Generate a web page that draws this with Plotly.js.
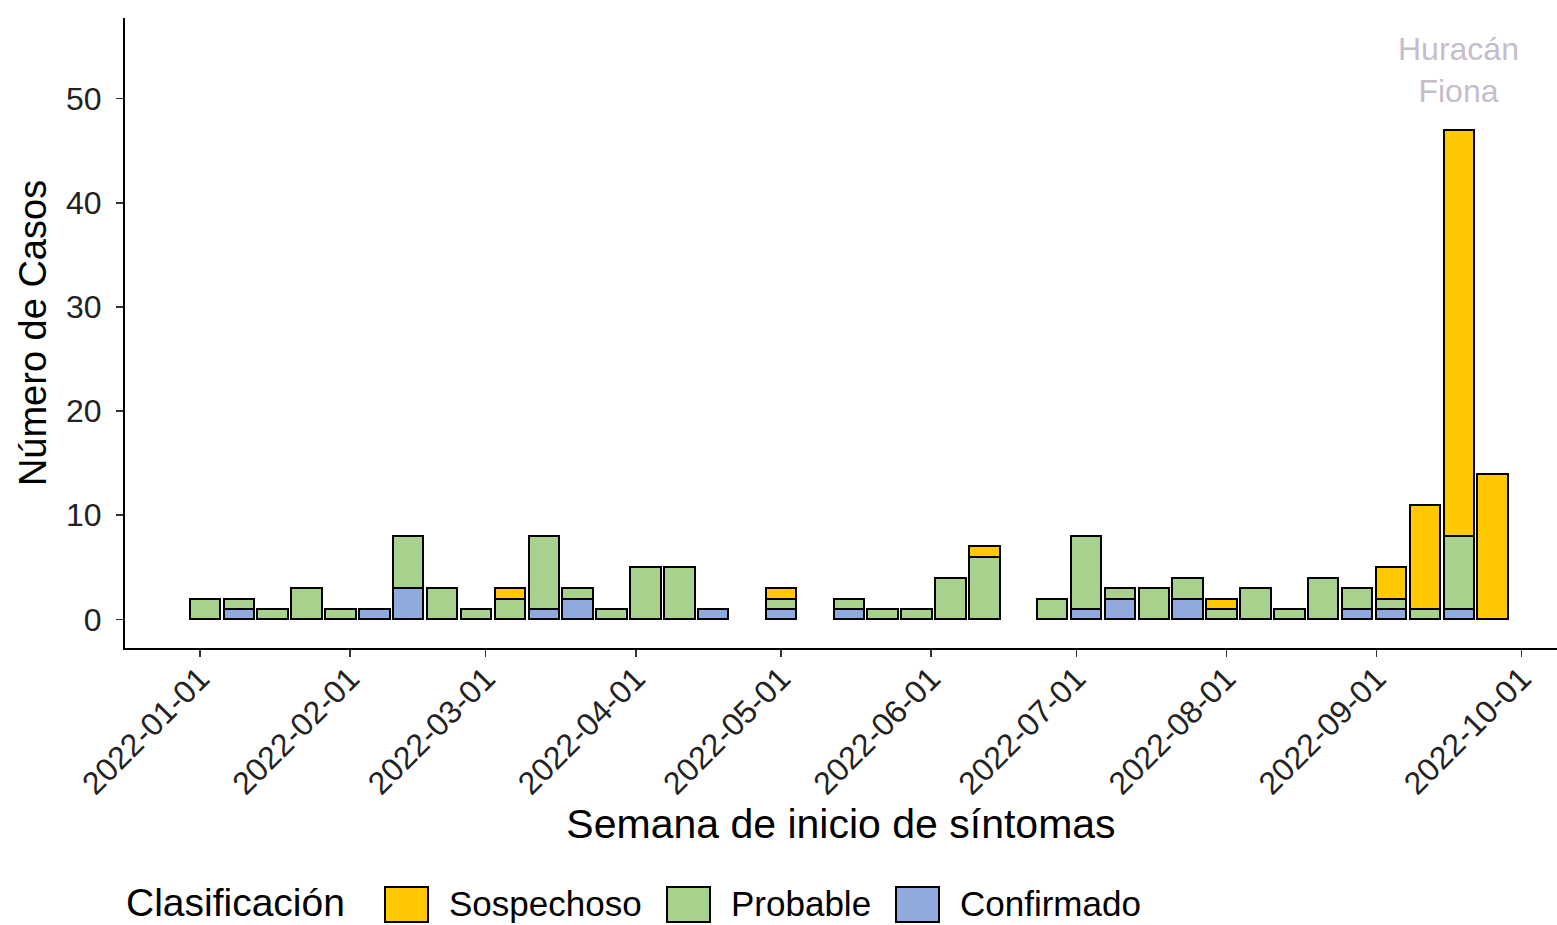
<!DOCTYPE html>
<html>
<head>
<meta charset="utf-8">
<script src="https://cdn.plot.ly/plotly-3.0.1.min.js"></script>
<style>html,body{margin:0;padding:0;background:#fff;}#chart{width:1557px;height:925px;}</style>
</head>
<body>
<div id="chart"></div>
<script>
// Week start dates (epidemiological weeks, Sunday)
const weeks = ["2022-01-02","2022-01-09","2022-01-16","2022-01-23","2022-01-30","2022-02-06","2022-02-13","2022-02-20","2022-02-27","2022-03-06","2022-03-13","2022-03-20","2022-03-27","2022-04-03","2022-04-10","2022-04-17","2022-04-24","2022-05-01","2022-05-08","2022-05-15","2022-05-22","2022-05-29","2022-06-05","2022-06-12","2022-06-19","2022-06-26","2022-07-03","2022-07-10","2022-07-17","2022-07-24","2022-07-31","2022-08-07","2022-08-14","2022-08-21","2022-08-28","2022-09-04","2022-09-11","2022-09-18","2022-09-25"];
const confirmado = [0,1,0,0,0,1,3,0,0,0,1,2,0,0,0,1,0,1,0,1,0,0,0,0,0,0,1,2,0,2,0,0,0,0,1,1,0,1,0];
const probable   = [2,1,1,3,1,0,5,3,1,2,7,1,1,5,5,0,0,1,0,1,1,1,4,6,0,2,7,1,3,2,1,3,1,4,2,1,1,7,0];
const sospechoso = [0,0,0,0,0,0,0,0,0,1,0,0,0,0,0,0,0,1,0,0,0,0,0,1,0,0,0,0,0,0,1,0,0,0,0,3,10,39,14];
const seriesNames = ["Confirmado","Probable","Sospechoso"];
const seriesColors = ["#8FAADC","#A9D18E","#FFC800"];
const legendOrder = ["Sospechoso","Probable","Confirmado"];
const monthTicks = ["2022-01-01","2022-02-01","2022-03-01","2022-04-01","2022-05-01","2022-06-01","2022-07-01","2022-08-01","2022-09-01","2022-10-01"];
const annotText = "Huracán<br>Fiona";
const annotDate = "2022-09-18";
const annotY = 52.8;

const font = "Liberation Sans, Arial, sans-serif";
const dayMs = 86400000;
const barWidth = 6.3 * dayMs;
const seriesValues = [confirmado, probable, sospechoso];

const traces = seriesNames.map((name, k) => ({
  type: "bar",
  name: name,
  x: weeks,
  y: seriesValues[k].map(v => v === 0 ? null : v),
  width: weeks.map(() => barWidth),
  marker: {color: seriesColors[k], line: {color: "#000", width: 2}},
  showlegend: false,
  hoverinfo: "x+y+name"
}));

// pixel -> paper helpers for plot area: left 125, right 1557, top 18, bottom 648
const px = p => (p - 125) / 1432;
const py = p => (648 - p) / 630;

const shapes = [];
const annotations = [
  {x: annotDate, y: annotY, xref: "x", yref: "y", text: annotText, showarrow: false,
   font: {family: font, size: 32, color: "#C6BCCB"}, align: "center", xanchor: "center", yanchor: "middle"},
  {x: px(124), y: py(903), xref: "paper", yref: "paper", text: "Clasificación", showarrow: false,
   font: {family: font, size: 39, color: "#000"}, xanchor: "left", yanchor: "middle"}
];
const keyX = [385, 667, 896];
const textX = [447, 729, 958];
legendOrder.forEach((name, i) => {
  const k = seriesNames.indexOf(name);
  shapes.push({type: "rect", xref: "paper", yref: "paper",
    x0: px(keyX[i]), x1: px(keyX[i] + 43), y0: py(922), y1: py(887),
    fillcolor: seriesColors[k], line: {color: "#000", width: 2}});
  annotations.push({x: px(textX[i]), y: py(904), xref: "paper", yref: "paper", text: name,
    showarrow: false, font: {family: font, size: 35, color: "#000"}, xanchor: "left", yanchor: "middle"});
});

const layout = {
  width: 1557, height: 925,
  margin: {l: 125, r: 0, t: 18, b: 277},
  paper_bgcolor: "#fff", plot_bgcolor: "#fff",
  barmode: "stack",
  showlegend: false,
  xaxis: {
    type: "date",
    range: ["2021-12-16 12:00", "2022-10-08 07:00"],
    tickvals: monthTicks,
    ticktext: monthTicks,
    tickangle: -45,
    ticks: "outside", ticklen: 7, tickwidth: 1.5, tickcolor: "#333",
    ticklabelstandoff: -10,
    showline: true, linecolor: "#000", linewidth: 2,
    showgrid: false, zeroline: false,
    tickfont: {family: font, size: 32, color: "#222"},
    title: {text: "Semana de inicio de síntomas", font: {family: font, size: 41, color: "#000"}, standoff: 6}
  },
  yaxis: {
    range: [-2.75, 57.75],
    tickvals: [0, 10, 20, 30, 40, 50],
    ticks: "outside", ticklen: 7, tickwidth: 1.5, tickcolor: "#333",
    ticklabelstandoff: 8,
    showline: true, linecolor: "#000", linewidth: 2,
    showgrid: false, zeroline: false,
    tickfont: {family: font, size: 32, color: "#222"},
    title: {text: "Número de Casos", font: {family: font, size: 38, color: "#000"}, standoff: 8}
  },
  shapes: shapes,
  annotations: annotations
};

Plotly.newPlot("chart", traces, layout, {displayModeBar: false, staticPlot: true});
</script>
</body>
</html>
